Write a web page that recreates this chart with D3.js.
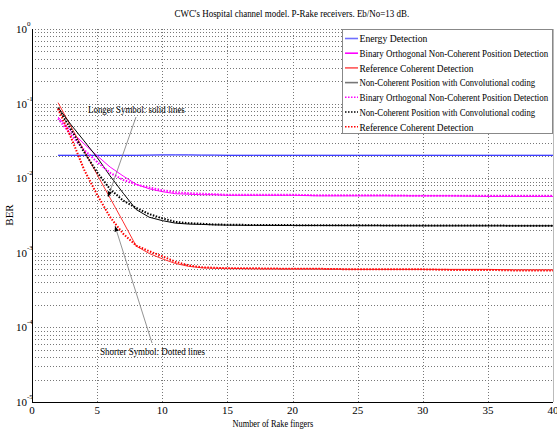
<!DOCTYPE html>
<html><head><meta charset="utf-8">
<script src="https://cdn.jsdelivr.net/npm/d3@7"></script>
<style>html,body{margin:0;padding:0;background:#fff}svg{display:block}text{font-family:"Liberation Serif","DejaVu Serif",serif;fill:#000}</style>
</head><body><svg id="c" width="557" height="432"></svg>
<script>
const fingers = [2,3,4,5,6,7,8,9,10,11,12,13,14,15,17,20,22,25,27,30,32,35,37,40];
const energySolid   = [0.0203,0.0203,0.0203,0.0203,0.0203,0.0203,0.0203,0.0204,0.0205,0.0205,0.0205,0.0204,0.0204,0.0203,0.0203,0.0203,0.0203,0.0203,0.0203,0.0203,0.0203,0.0203,0.0203,0.0203];
const binarySolid   = [0.066,0.0427,0.0288,0.0200,0.0141,0.0107,0.0083,0.0072,0.0066,0.0062,0.0061,0.0060,0.0060,0.0059,0.0059,0.0059,0.0058,0.0058,0.0058,0.0058,0.0058,0.0057,0.0057,0.0057];
const refSolid      = [0.103,0.049,0.0234,0.0112,0.0054,0.0026,0.00123,0.00098,0.00083,0.00072,0.00066,0.00063,0.00062,0.00062,0.00061,0.00061,0.00061,0.00060,0.00060,0.00060,0.00060,0.00060,0.00059,0.00059];
const convSolid     = [0.089,0.052,0.0316,0.019,0.0107,0.0063,0.0038,0.0030,0.0027,0.0025,0.00243,0.0024,0.00237,0.00235,0.00233,0.00232,0.00232,0.00231,0.00231,0.0023,0.0023,0.0023,0.0023,0.0023];
const binaryDotted  = [0.063,0.038,0.024,0.0165,0.0118,0.0095,0.0082,0.0075,0.0069,0.0065,0.0063,0.0062,0.0061,0.0060,0.0060,0.0060,0.0059,0.0059,0.0059,0.0058,0.0058,0.0058,0.0058,0.0058];
const convDotted    = [0.087,0.045,0.0224,0.012,0.0071,0.0050,0.0040,0.0033,0.0029,0.0026,0.0025,0.00245,0.0024,0.00238,0.00236,0.00235,0.00234,0.00234,0.00233,0.00233,0.00232,0.00232,0.00231,0.00231];
const refDotted     = [0.085,0.035,0.013,0.006,0.003,0.0018,0.00125,0.00105,0.0009,0.00076,0.00068,0.00064,0.00063,0.00062,0.00062,0.00061,0.00061,0.0006,0.0006,0.0006,0.00059,0.00059,0.00058,0.00058];

const seriesNames = ["Energy Detection","Binary Orthogonal Non-Coherent Position Detection","Reference Coherent Detection","Non-Coherent Position with Convolutional coding","Binary Orthogonal Non-Coherent Position Detection","Non-Coherent Position with Convolutional coding","Reference Coherent Detection"];
const seriesValues = [energySolid,binarySolid,refSolid,convSolid,binaryDotted,convDotted,refDotted];
const seriesColors = ["#0000ff","#ff00ff","#ff3030","#000000","#ff00ff","#000000","#ff0000"];
const seriesDotted = [false,false,false,false,true,true,true];
const legendColors = ["#6f6fff","#ff00ff","#ff5555","#777777","#ff00ff","#000000","#ff0000"];

const xTicks = [0,5,10,15,20,25,30,35,40];
const yExps = [0,-1,-2,-3,-4,-5];
const titleText = "CWC's Hospital channel model. P-Rake receivers. Eb/No=13 dB.";
const xLabel = "Number of Rake fingers";
const yLabel = "BER";
const noteLong = "Longer Symbol: solid lines";
const noteShort = "Shorter Symbol: Dotted lines";

const svg = d3.select("#c");
const L=32, R=553, T=29, B=402;
const x = d3.scaleLinear().domain([0,40]).range([L,R]);
const y = d3.scaleLog().domain([1e-5,1]).range([B,T]);

// text squeezed horizontally to a target width via transform
function squeezed(parent, str, px, py, width, size, anchor) {
  const gg = parent.append("g");
  const t = gg.append("text").attr("font-size",size).text(str);
  const w = t.node().getComputedTextLength();
  const s = Math.min(1, width / w);
  const x0 = anchor === "middle" ? px - width/2 : px;
  gg.attr("transform",`translate(${x0},${py}) scale(${s},1)`);
  return gg;
}

// grid
const g = svg.append("g");
const minor = [];
for (const e of [-5,-4,-3,-2,-1]) for (let k=1;k<10;k++) minor.push(k*Math.pow(10,e));
minor.push(1);
g.selectAll("line.h").data(minor).join("line")
  .attr("x1",L).attr("x2",R).attr("y1",d=>Math.round(y(d))+0.5).attr("y2",d=>Math.round(y(d))+0.5)
  .attr("stroke","#777").attr("stroke-width",1).attr("stroke-dasharray","1,2");
g.selectAll("line.v").data(xTicks.slice(1,-1)).join("line")
  .attr("y1",T).attr("y2",B).attr("x1",d=>Math.round(x(d))+0.5).attr("x2",d=>Math.round(x(d))+0.5)
  .attr("stroke","#777").attr("stroke-width",1).attr("stroke-dasharray","1,2");

// axes lines
svg.append("line").attr("x1",L).attr("x2",R).attr("y1",B+0.5).attr("y2",B+0.5).attr("stroke","#000");
svg.append("line").attr("x1",L+0.5).attr("x2",L+0.5).attr("y1",T).attr("y2",B).attr("stroke","#000");
svg.append("line").attr("x1",R+0.5).attr("x2",R+0.5).attr("y1",T).attr("y2",B).attr("stroke","#bbb");

// curves
const line = d3.line().x((d,i)=>x(fingers[i])).y(d=>y(d));
seriesValues.forEach((vals,i)=>{
  svg.append("path").datum(vals).attr("d",line).attr("fill","none")
    .attr("stroke",seriesColors[i])
    .attr("stroke-width",seriesDotted[i]?2:1)
    .attr("stroke-dasharray",seriesDotted[i]?"1.5,1.5":null);
});

// annotations
svg.append("defs").append("marker").attr("id","ah").attr("viewBox","0 0 10 10").attr("refX",10).attr("refY",5)
  .attr("markerWidth",7).attr("markerHeight",7).attr("orient","auto")
  .append("path").attr("d","M0,1 L10,5 L0,9 z").attr("fill","#000");
svg.append("line").attr("x1",136).attr("y1",117).attr("x2",108).attr("y2",197).attr("stroke","#777").attr("stroke-width",0.8).attr("marker-end","url(#ah)");
svg.append("line").attr("x1",152).attr("y1",343).attr("x2",115).attr("y2",226).attr("stroke","#777").attr("stroke-width",0.8).attr("marker-end","url(#ah)");
squeezed(svg, noteLong, 88, 113, 97, 11);
squeezed(svg, noteShort, 100, 355, 105, 11);

// legend
const lg = svg.append("g");
lg.append("rect").attr("x",342.5).attr("y",29.5).attr("width",210).attr("height",104).attr("fill","#fff").attr("stroke","#888");
const legW = [68,189,114,176,189,176,114];
seriesNames.forEach((n,i)=>{
  const yy = 38.5 + i*14.7;
  lg.append("line").attr("x1",345).attr("x2",358).attr("y1",yy).attr("y2",yy)
    .attr("stroke",legendColors[i]).attr("stroke-width",seriesDotted[i]?1.5:1.6)
    .attr("stroke-dasharray",seriesDotted[i]?"1.5,1.5":null);
  squeezed(lg, n, 359.5, yy+3.8, legW[i], 10.5);
});

// tick labels
svg.selectAll("text.xt").data(xTicks).join("text").attr("class","xt")
  .attr("x",d=>x(d)).attr("y",414).attr("text-anchor","middle").attr("font-size",11).text(d=>d);
yExps.forEach(e=>{
  svg.append("text").attr("x",27).attr("y",y(Math.pow(10,e))+4).attr("text-anchor","end").attr("font-size",11).text("10");
  svg.append("text").attr("x",27).attr("y",y(Math.pow(10,e))-3).attr("font-size",7).text(e);
});

// titles
squeezed(svg, titleText, 292, 17, 235, 11, "middle");
squeezed(svg, xLabel, 273, 427, 81, 11, "middle");
svg.append("text").attr("transform","translate(13,215) rotate(-90)").attr("text-anchor","middle").attr("font-size",11).text(yLabel);
</script></body></html>
